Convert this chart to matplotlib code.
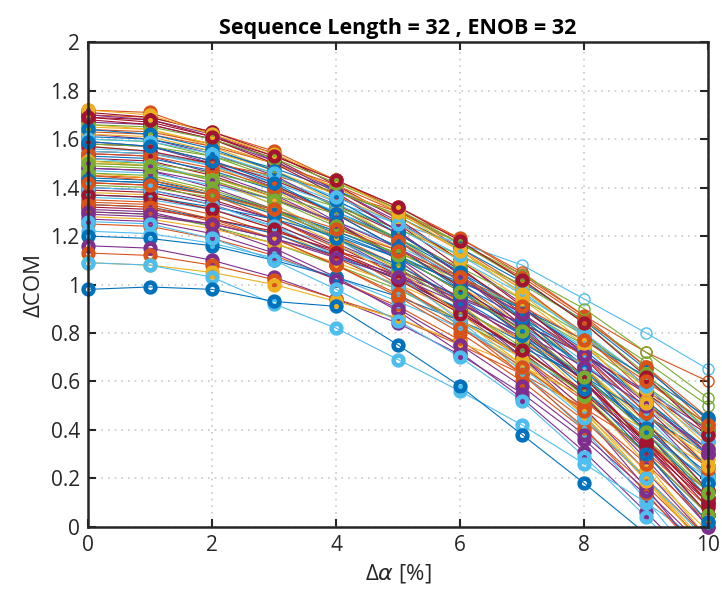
import numpy as np
import matplotlib
matplotlib.use("Agg")
import matplotlib.pyplot as plt

alpha_pct = [0, 1, 2, 3, 4, 5, 6, 7, 8, 9, 10]

series = [
    [1.72,1.71,1.62,1.53,1.43,1.32,1.19,1.04,0.87,0.66,0.42],
    [1.70,1.69,1.63,1.55,1.43,1.31,1.15,0.99,0.79,0.55,0.30],
    [1.69,1.67,1.61,1.52,1.39,1.25,1.07,0.88,0.66,0.39,0.10],
    [1.67,1.66,1.60,1.51,1.39,1.26,1.10,0.92,0.71,0.47,0.20],
    [1.66,1.64,1.57,1.47,1.34,1.18,0.99,0.79,0.55,0.26,-0.05],
    [1.55,1.54,1.50,1.44,1.34,1.25,1.17,1.08,0.94,0.80,0.65],
    [1.64,1.63,1.58,1.50,1.40,1.28,1.14,0.98,0.80,0.58,0.35],
    [1.62,1.60,1.54,1.45,1.32,1.18,1.01,0.82,0.60,0.33,0.05],
    [1.61,1.60,1.55,1.48,1.39,1.28,1.15,1.01,0.85,0.65,0.44],
    [1.60,1.59,1.53,1.44,1.32,1.19,1.03,0.86,0.66,0.41,0.15],
    [1.58,1.57,1.51,1.43,1.33,1.21,1.06,0.90,0.72,0.49,0.25],
    [1.57,1.55,1.49,1.39,1.25,1.10,0.92,0.72,0.48,0.20,-0.10],
    [1.55,1.54,1.50,1.45,1.38,1.30,1.19,1.05,0.87,0.72,0.60],
    [1.55,1.54,1.49,1.42,1.33,1.23,1.10,0.96,0.80,0.61,0.40],
    [1.54,1.53,1.46,1.37,1.25,1.11,0.94,0.76,0.54,0.28,0.00],
    [1.53,1.52,1.47,1.39,1.30,1.19,1.05,0.90,0.73,0.52,0.30],
    [1.52,1.51,1.45,1.36,1.25,1.12,0.97,0.80,0.60,0.36,0.10],
    [1.51,1.50,1.46,1.40,1.32,1.23,1.12,1.00,0.85,0.68,0.50],
    [1.50,1.49,1.44,1.36,1.25,1.14,0.99,0.84,0.66,0.43,0.20],
    [1.48,1.47,1.40,1.31,1.19,1.05,0.88,0.70,0.49,0.23,-0.05],
    [1.47,1.46,1.41,1.35,1.26,1.16,1.03,0.90,0.74,0.55,0.35],
    [1.45,1.44,1.38,1.30,1.20,1.08,0.93,0.77,0.59,0.36,0.12],
    [1.44,1.43,1.38,1.31,1.21,1.11,0.98,0.83,0.67,0.46,0.25],
    [1.42,1.41,1.35,1.27,1.16,1.04,0.89,0.72,0.53,0.30,0.05],
    [1.41,1.40,1.36,1.30,1.22,1.13,1.02,0.90,0.75,0.58,0.40],
    [1.40,1.39,1.34,1.27,1.17,1.06,0.92,0.78,0.61,0.40,0.18],
    [1.38,1.37,1.31,1.23,1.11,0.99,0.83,0.67,0.47,0.23,-0.02],
    [1.36,1.35,1.31,1.24,1.16,1.06,0.95,0.82,0.67,0.49,0.30],
    [1.35,1.34,1.29,1.21,1.11,0.99,0.85,0.70,0.52,0.31,0.08],
    [1.33,1.32,1.27,1.21,1.12,1.02,0.90,0.76,0.61,0.42,0.22],
    [1.32,1.31,1.27,1.22,1.14,1.06,0.95,0.84,0.71,0.55,0.38],
    [1.31,1.30,1.24,1.15,1.03,0.89,0.72,0.53,0.31,0.06,-0.20],
    [1.30,1.29,1.24,1.17,1.08,0.98,0.85,0.71,0.55,0.36,0.15],
    [1.28,1.27,1.23,1.17,1.09,1.00,0.89,0.77,0.63,0.46,0.28],
    [1.25,1.24,1.19,1.12,1.02,0.91,0.77,0.60,0.40,0.17,-0.08],
    [1.22,1.21,1.17,1.11,1.03,0.93,0.82,0.70,0.56,0.38,0.20],
    [1.20,1.19,1.16,1.10,1.03,0.95,0.85,0.74,0.62,0.46,0.30],
    [1.16,1.15,1.10,1.03,0.94,0.84,0.71,0.55,0.36,0.13,-0.12],
    [1.13,1.12,1.08,1.02,0.94,0.86,0.75,0.63,0.49,0.33,0.15],
    [1.09,1.08,1.05,1.00,0.93,0.86,0.76,0.66,0.54,0.40,0.25],
    [1.09,1.08,1.03,0.92,0.82,0.69,0.56,0.42,0.26,0.10,-0.08],
    [0.98,0.99,0.98,0.93,0.91,0.75,0.58,0.38,0.18,-0.03,-0.25],
    [1.71,1.69,1.63,1.54,1.41,1.27,1.10,0.91,0.70,0.43,0.15],
    [1.63,1.62,1.57,1.50,1.41,1.30,1.17,1.03,0.86,0.66,0.45],
    [1.59,1.57,1.50,1.40,1.26,1.10,0.91,0.70,0.46,0.16,-0.15],
    [1.56,1.55,1.49,1.41,1.30,1.18,1.03,0.87,0.68,0.45,0.20],
    [1.49,1.48,1.44,1.37,1.29,1.19,1.07,0.94,0.79,0.61,0.42],
    [1.46,1.44,1.38,1.29,1.17,1.03,0.86,0.67,0.46,0.20,-0.08],
    [1.43,1.42,1.37,1.31,1.22,1.12,1.00,0.86,0.71,0.52,0.32],
    [1.39,1.38,1.33,1.25,1.14,1.03,0.89,0.73,0.55,0.33,0.10],
    [1.34,1.33,1.27,1.19,1.08,0.95,0.80,0.63,0.44,0.20,-0.05],
    [1.29,1.28,1.25,1.19,1.12,1.04,0.94,0.84,0.71,0.56,0.40],
    [1.65,1.64,1.58,1.50,1.40,1.28,1.14,0.98,0.79,0.57,0.33],
    [1.68,1.66,1.60,1.50,1.37,1.22,1.04,0.85,0.62,0.34,0.05],
    [1.52,1.50,1.43,1.33,1.19,1.04,0.85,0.64,0.40,0.11,-0.20],
    [1.37,1.36,1.32,1.27,1.20,1.11,1.01,0.90,0.77,0.62,0.45],
    [1.58,1.57,1.53,1.46,1.38,1.29,1.17,1.04,0.90,0.72,0.53],
    [1.45,1.43,1.37,1.27,1.15,1.00,0.83,0.63,0.41,0.14,-0.15],
    [1.27,1.26,1.21,1.13,1.02,0.90,0.75,0.58,0.38,0.15,-0.10],
    [1.62,1.61,1.55,1.47,1.37,1.25,1.10,0.94,0.75,0.52,0.28],
    [1.70,1.68,1.62,1.51,1.38,1.22,1.04,0.83,0.60,0.31,0.00],
    [1.66,1.65,1.60,1.52,1.42,1.31,1.17,1.02,0.84,0.63,0.40],
    [1.64,1.62,1.56,1.47,1.35,1.21,1.05,0.86,0.65,0.39,0.12],
    [1.60,1.59,1.54,1.46,1.36,1.25,1.12,0.97,0.79,0.58,0.36],
    [1.57,1.55,1.50,1.41,1.29,1.15,0.99,0.81,0.60,0.35,0.08],
    [1.54,1.53,1.48,1.40,1.29,1.18,1.03,0.88,0.70,0.47,0.24],
    [1.51,1.49,1.43,1.33,1.20,1.06,0.88,0.69,0.46,0.19,-0.10],
    [1.48,1.47,1.42,1.35,1.26,1.15,1.02,0.88,0.71,0.51,0.30],
    [1.46,1.45,1.39,1.31,1.19,1.07,0.91,0.74,0.54,0.30,0.05],
    [1.43,1.42,1.37,1.29,1.19,1.08,0.94,0.79,0.62,0.41,0.18],
    [1.40,1.39,1.33,1.24,1.12,0.99,0.83,0.66,0.45,0.20,-0.06],
    [1.37,1.36,1.31,1.23,1.13,1.02,0.88,0.73,0.56,0.35,0.12],
    [1.33,1.32,1.26,1.19,1.08,0.96,0.82,0.66,0.48,0.26,0.02],
    [1.30,1.29,1.25,1.19,1.11,1.03,0.92,0.80,0.66,0.50,0.32],
    [1.72,1.70,1.62,1.54,1.43,1.30,1.14,0.96,0.76,0.51,0.25],
    [1.69,1.68,1.61,1.53,1.43,1.32,1.18,1.02,0.84,0.62,0.38],
    [1.59,1.57,1.51,1.42,1.29,1.15,0.98,0.79,0.57,0.30,0.02],
    [1.50,1.49,1.43,1.35,1.24,1.12,0.97,0.81,0.62,0.39,0.14],
    [1.42,1.41,1.37,1.31,1.23,1.14,1.03,0.91,0.77,0.60,0.42],
    [1.26,1.25,1.19,1.10,0.98,0.85,0.70,0.52,0.29,0.04,-0.22],
]

palette = ['#0072BD', '#D95319', '#EDB120', '#7E2F8E', '#77AC30', '#4DBEEE', '#A2142F']
series_color = [1, 1, 6, 3, 2, 5, 1, 3, 0, 4, 6, 2, 1, 5, 3, 0, 6, 4, 2, 3,
                5, 1, 0, 6, 4, 3, 2, 5, 1, 0, 6, 3, 4, 2, 1, 5, 0, 3, 1, 2,
                5, 0, 6, 1, 3, 5, 4, 2, 0, 6, 1, 3, 2, 6, 5, 0, 4, 1, 3, 2,
                3, 4, 0, 5, 6, 1, 2, 3, 4, 0, 5, 6, 1, 3, 2, 6, 0, 4, 1, 5]
thin_markers = [5, 12, 17, 56]

plt.rcParams['font.family'] = ['Open Sans', 'DejaVu Sans']
fig = plt.figure(figsize=(7.22, 5.94), dpi=100)
ax = fig.add_axes([0.122, 0.113, 0.859, 0.816])

x = np.array(alpha_pct, dtype=float)
for i, vals in enumerate(series):
    y = np.array(vals)
    c = palette[series_color[i]]
    ax.plot(x, y, '-', color=c, lw=0.8, zorder=2)
    m = (y >= 0) & (y <= 2)
    if i in thin_markers:
        ax.plot(x[m], y[m], 'o', mfc='none', mec=c, ms=8, mew=1.0,
                clip_on=False, zorder=3)
    else:
        ax.plot(x[m], y[m], 'o', mfc='none', mec=c, ms=7, mew=3.3,
                clip_on=False, zorder=3)

ax.set_xlim(0, 10)
ax.set_ylim(0, 2)
ax.set_xticks([0, 2, 4, 6, 8, 10])
yt = np.round(np.arange(0, 2.01, 0.2), 1)
ax.set_yticks(yt)
ax.set_yticklabels(['0' if v == 0 else ('%g' % v) for v in yt])
ax.grid(True, linestyle=(0, (1, 3)), color='#c8c8c8', lw=1.2)
ax.set_axisbelow(True)
ax.tick_params(direction='in', length=6, width=1.5, top=True, right=True,
               labelsize=15, colors='#262626', pad=6)
for s in ax.spines.values():
    s.set_linewidth(1.8)
    s.set_color('#262626')
    s.set_zorder(4)
ax.set_xlabel('Δ$\\alpha$ [%]', fontsize=16, color='#262626')
ax.set_ylabel('ΔCOM', fontsize=16, color='#262626')
ax.set_title('Sequence Length = 32 , ENOB = 32', fontsize=15.5, fontweight='bold',
             color='#000000', pad=6)

fig.savefig('out.png', dpi=100)
